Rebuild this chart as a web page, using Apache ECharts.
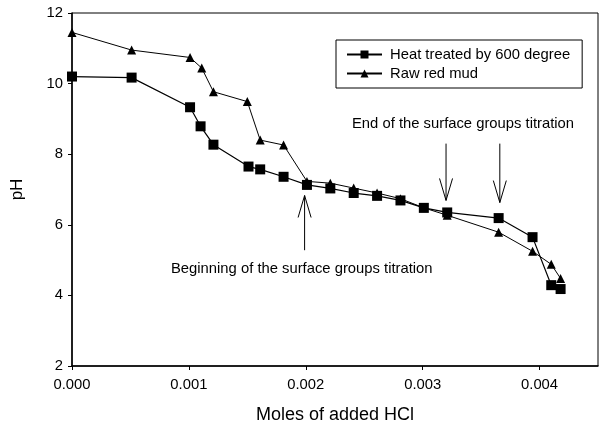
<!DOCTYPE html>
<html><head><meta charset="utf-8">
<script src="https://cdn.jsdelivr.net/npm/echarts@6/dist/echarts.min.js"></script>
<style>html,body{margin:0;padding:0;background:#fff}#c{width:601px;height:429px}</style>
</head><body><div id="c"></div>
<script>
const heatX = [0, 0.00051, 0.00101, 0.0011, 0.00121, 0.00151, 0.00161, 0.00181, 0.00201, 0.00221, 0.00241, 0.00261, 0.00281, 0.00301, 0.00321, 0.00365, 0.00394, 0.0041, 0.00418];
const heatY = [10.2, 10.17, 9.33, 8.79, 8.27, 7.65, 7.57, 7.36, 7.13, 7.03, 6.9, 6.82, 6.69, 6.48, 6.35, 6.19, 5.65, 4.29, 4.18];
const rawX = [0, 0.00051, 0.00101, 0.00111, 0.00121, 0.0015, 0.00161, 0.00181, 0.00201, 0.00221, 0.00241, 0.00261, 0.00281, 0.00301, 0.00321, 0.00365, 0.00394, 0.0041, 0.00418];
const rawY = [11.45, 10.95, 10.74, 10.44, 9.77, 9.49, 8.4, 8.26, 7.23, 7.18, 7.04, 6.9, 6.74, 6.48, 6.27, 5.79, 5.25, 4.88, 4.48];
const seriesNames = ['Heat treated by 600 degree', 'Raw red mud'];
const xTitle = 'Moles of added HCl';
const yTitle = 'pH';
const noteEnd = 'End of the surface groups titration';
const noteBegin = 'Beginning of the surface groups titration';
// arrows in data coordinates: [x, yTail, yTip]
const arrowsEnd = [[0.0032, 8.3, 6.69], [0.00366, 8.3, 6.63]];
const arrowBegin = [0.00199, 5.28, 6.83];

const font = 'Liberation Sans, Arial, sans-serif';
const fs = 14.8;
const chart = echarts.init(document.getElementById('c'), null, {renderer: 'canvas'});
const zip = (xs, ys) => xs.map((x, i) => [x, ys[i]]);
chart.setOption({
  animation: false,
  backgroundColor: '#fff',
  grid: {left: 72, top: 13, right: 3, bottom: 63, show: true, borderColor: '#000', borderWidth: 1, backgroundColor: 'transparent'},
  legend: {
    orient: 'vertical', left: 336, top: 40,
    padding: [7, 12, 7, 10], itemGap: 4, itemWidth: 35, itemHeight: 10,
    borderColor: '#000', borderWidth: 1,
    textStyle: {fontFamily: font, fontSize: fs, color: '#000', padding: [0, 0, 0, 3]},
    data: seriesNames
  },
  xAxis: {
    type: 'value', min: 0, max: 0.0045, interval: 0.001,
    name: xTitle, nameLocation: 'middle', nameGap: 40,
    nameTextStyle: {fontFamily: font, fontSize: 18, color: '#000'},
    axisLine: {lineStyle: {color: '#000', width: 1.5}},
    axisTick: {show: true, length: 4, lineStyle: {color: '#000'}},
    axisLabel: {fontFamily: font, fontSize: fs, color: '#000', margin: 11, showMaxLabel: false, formatter: v => v.toFixed(3)},
    splitLine: {show: false}
  },
  yAxis: {
    type: 'value', min: 2, max: 12, interval: 2,
    name: yTitle, nameLocation: 'middle', nameGap: 46,
    nameTextStyle: {fontFamily: font, fontSize: 17, color: '#000'},
    axisLine: {show: true, lineStyle: {color: '#000', width: 1.5}},
    axisTick: {show: true, length: 4, lineStyle: {color: '#000'}},
    axisLabel: {fontFamily: font, fontSize: fs, color: '#000', margin: 9},
    splitLine: {show: false}
  },
  series: [
    {name: seriesNames[0], type: 'line', data: zip(heatX, heatY), symbol: 'rect', symbolSize: 10,
     z: 3, color: '#000', lineStyle: {color: '#000', width: 1.2}, itemStyle: {color: '#000'}},
    {name: seriesNames[1], type: 'line', data: zip(rawX, rawY), symbol: 'triangle', symbolSize: 9,
     z: 2, color: '#000', lineStyle: {color: '#000', width: 1}, itemStyle: {color: '#000'}}
  ]
});

function arrow(x, yTail, yTip) {
  const t = chart.convertToPixel({gridIndex: 0}, [x, yTail]);
  const p = chart.convertToPixel({gridIndex: 0}, [x, yTip]);
  const dir = p[1] > t[1] ? -1 : 1; // head goes back toward tail
  const hl = 22, hw = 6.5;
  return [
    {type: 'line', shape: {x1: t[0], y1: t[1], x2: p[0], y2: p[1]}, style: {stroke: '#000', lineWidth: 1}},
    {type: 'polyline', shape: {points: [[p[0] - hw, p[1] + dir * hl], [p[0], p[1]], [p[0] + hw, p[1] + dir * hl]]}, style: {stroke: '#000', lineWidth: 1, fill: null}}
  ];
}
let g = [];
arrowsEnd.forEach(a => { g = g.concat(arrow(a[0], a[1], a[2])); });
g = g.concat(arrow(arrowBegin[0], arrowBegin[1], arrowBegin[2]));
g.push({type: 'text', left: 352, top: 116, style: {text: noteEnd, fontFamily: font, fontSize: fs, fill: '#000'}});
g.push({type: 'text', left: 171, top: 261, style: {text: noteBegin, fontFamily: font, fontSize: fs, fill: '#000'}});
chart.setOption({graphic: g});
</script>
</body></html>
